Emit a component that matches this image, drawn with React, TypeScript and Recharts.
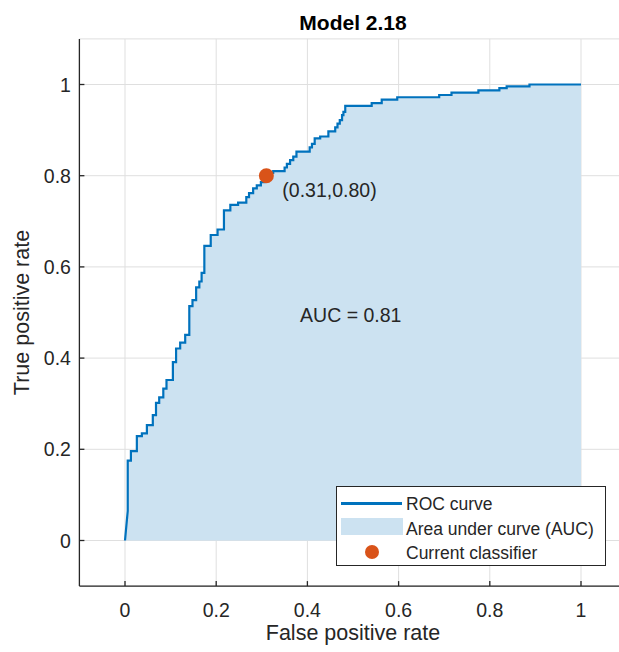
import React from 'react';
import { ComposedChart, Area, Line, XAxis, YAxis, CartesianGrid, ReferenceDot, Legend, Label } from 'recharts';

// ROC curve vertices (false positive rate, true positive rate)
const fpr = [
  0, 0.006, 0.006, 0.013, 0.013, 0.026, 0.026, 0.037, 0.037, 0.048, 0.048, 0.061, 0.061, 0.068, 0.068,
  0.075, 0.075, 0.084, 0.084, 0.091, 0.091, 0.105, 0.105, 0.112, 0.112, 0.121, 0.121, 0.132, 0.132,
  0.141, 0.141, 0.148, 0.148, 0.156, 0.156, 0.163, 0.163, 0.168, 0.168, 0.174, 0.174, 0.188, 0.188,
  0.203, 0.203, 0.217, 0.217, 0.231, 0.231, 0.248, 0.248, 0.266, 0.266, 0.272, 0.272, 0.281, 0.281,
  0.289, 0.289, 0.298, 0.298, 0.306, 0.306, 0.312, 0.312, 0.325, 0.325, 0.350, 0.350, 0.355, 0.355,
  0.362, 0.362, 0.369, 0.369, 0.376, 0.376, 0.405, 0.405, 0.410, 0.410, 0.416, 0.416, 0.428, 0.428,
  0.446, 0.446, 0.461, 0.461, 0.466, 0.466, 0.471, 0.471, 0.476, 0.476, 0.479, 0.479, 0.483, 0.483,
  0.541, 0.541, 0.563, 0.563, 0.597, 0.597, 0.689, 0.689, 0.716, 0.716, 0.775, 0.775, 0.821, 0.821,
  0.837, 0.837, 0.887, 0.887, 1.0,
];
const tpr = [
  0, 0.065, 0.175, 0.175, 0.196, 0.196, 0.229, 0.229, 0.235, 0.235, 0.253, 0.253, 0.275, 0.275, 0.302,
  0.302, 0.314, 0.314, 0.333, 0.333, 0.352, 0.352, 0.391, 0.391, 0.421, 0.421, 0.434, 0.434, 0.451,
  0.451, 0.514, 0.514, 0.527, 0.527, 0.555, 0.555, 0.568, 0.568, 0.587, 0.587, 0.646, 0.646, 0.670,
  0.670, 0.682, 0.682, 0.724, 0.724, 0.736, 0.736, 0.741, 0.741, 0.753, 0.753, 0.762, 0.762, 0.772,
  0.772, 0.779, 0.779, 0.786, 0.786, 0.795, 0.795, 0.806, 0.806, 0.810, 0.810, 0.818, 0.818, 0.826,
  0.826, 0.834, 0.834, 0.842, 0.842, 0.853, 0.853, 0.862, 0.862, 0.870, 0.870, 0.882, 0.882, 0.886,
  0.886, 0.897, 0.897, 0.906, 0.906, 0.914, 0.914, 0.922, 0.922, 0.933, 0.933, 0.940, 0.940, 0.953,
  0.953, 0.959, 0.959, 0.967, 0.967, 0.972, 0.972, 0.977, 0.977, 0.982, 0.982, 0.987, 0.987, 0.992,
  0.992, 0.996, 0.996, 1.0, 1.0,
];

const xTicks = [0, 0.2, 0.4, 0.6, 0.8, 1];
const xTickLabels = ['0', '0.2', '0.4', '0.6', '0.8', '1'];
const yTicks = [0, 0.2, 0.4, 0.6, 0.8, 1];
const yTickLabels = ['0', '0.2', '0.4', '0.6', '0.8', '1'];

const classifierPoint = { fpr: 0.31, tpr: 0.8 };
const classifierText = '(0.31,0.80)';
const aucAnchor = { fpr: 0.384, tpr: 0.48 };
const aucText = 'AUC = 0.81';
const titleText = 'Model 2.18';
const xLabelText = 'False positive rate';
const yLabelText = 'True positive rate';
const legendLabels = ['ROC curve', 'Area under curve (AUC)', 'Current classifier'];

const rocData = fpr.map((x, i) => ({ fpr: x, tpr: tpr[i] }));

const FONT = '"Liberation Sans", Arial, Helvetica, sans-serif';
const BLUE = '#0072BD';
const FILL = '#CCE2F1';
const ORANGE = '#D95319';
const AX = '#262626';

const XTick = (props: any) => {
  const { x, y, payload } = props;
  const i = xTicks.indexOf(payload.value);
  return (
    <g>
      <line x1={x} x2={x} y1={y} y2={y - 5} stroke={AX} strokeWidth={1.3} />
      <text x={x} y={y + 30.5} textAnchor="middle" fontSize={19.5} fill={AX} fontFamily={FONT}>
        {i >= 0 ? xTickLabels[i] : String(payload.value)}
      </text>
    </g>
  );
};

const YTick = (props: any) => {
  const { x, y, payload } = props;
  const i = yTicks.indexOf(payload.value);
  return (
    <g>
      <line x1={x} x2={x + 5} y1={y} y2={y} stroke={AX} strokeWidth={1.3} />
      <text x={x - 8.5} y={y + 7} textAnchor="end" fontSize={19.5} fill={AX} fontFamily={FONT}>
        {i >= 0 ? yTickLabels[i] : String(payload.value)}
      </text>
    </g>
  );
};

const LegendBox = () => (
  <div
    style={{
      width: 270,
      height: 80,
      boxSizing: 'border-box',
      border: `1.3px solid ${AX}`,
      background: '#fff',
      position: 'relative',
      fontFamily: FONT,
      fontSize: 17.5,
      color: AX,
    }}
  >
    <div style={{ position: 'absolute', left: 4, top: 14.5, width: 61, height: 3, background: BLUE }} />
    <div style={{ position: 'absolute', left: 69, top: 6.5, lineHeight: '20px', whiteSpace: 'nowrap' }}>{legendLabels[0]}</div>
    <div style={{ position: 'absolute', left: 3.5, top: 31, width: 62, height: 17, background: FILL }} />
    <div style={{ position: 'absolute', left: 69, top: 31.5, lineHeight: '20px', whiteSpace: 'nowrap' }}>{legendLabels[1]}</div>
    <div
      style={{
        position: 'absolute',
        left: 34.5 - 7,
        top: 65 - 7,
        width: 14,
        height: 14,
        borderRadius: 7,
        background: ORANGE,
      }}
    />
    <div style={{ position: 'absolute', left: 69, top: 56, lineHeight: '20px', whiteSpace: 'nowrap' }}>{legendLabels[2]}</div>
  </div>
);

export default function App() {
  return (
    <div style={{ position: 'absolute', left: 0, top: 0, width: 619, height: 652, overflow: 'hidden', background: '#fff' }}>
      <div
        style={{
          position: 'absolute',
          left: 253,
          width: 200,
          top: 0,
          textAlign: 'center',
          fontFamily: FONT,
          fontWeight: 'bold',
          fontSize: 21,
          lineHeight: '21px',
          paddingTop: 11.5,
          color: '#000',
          zIndex: 2,
        }}
      >
        {titleText}
      </div>
      <ComposedChart
        width={640}
        height={652}
        data={rocData}
        margin={{ top: 38.9, right: 13.4, bottom: 35.9, left: 39.4 }}
        style={{ fontFamily: FONT }}
      >
        <CartesianGrid stroke="#dfdfdf" strokeWidth={1} />
        <XAxis
          dataKey="fpr"
          type="number"
          domain={[-0.1, 1.1]}
          ticks={xTicks}
          allowDataOverflow
          height={30}
          tickSize={0}
          tickMargin={0}
          tick={<XTick />}
          axisLine={{ stroke: AX, strokeWidth: 1.3 }}
          tickLine={false}
          interval={0}
        >
          <Label
            content={(p: any) => {
              const vb = p.viewBox || { x: 79.4, y: 586.1, width: 547.2 };
              return (
                <text x={vb.x + vb.width / 2} y={vb.y + 54} textAnchor="middle" fontSize={21.5} fill={AX} fontFamily={FONT}>
                  {xLabelText}
                </text>
              );
            }}
          />
        </XAxis>
        <YAxis
          type="number"
          domain={[-0.1, 1.1]}
          ticks={yTicks}
          allowDataOverflow
          width={40}
          tickSize={0}
          tickMargin={0}
          tick={<YTick />}
          axisLine={{ stroke: AX, strokeWidth: 1.3 }}
          tickLine={false}
          interval={0}
        >
          <Label
            content={(p: any) => {
              const vb = p.viewBox || { x: 39.4, y: 38.9, width: 40, height: 547.2 };
              const cx = 28.5;
              const cy = vb.y + vb.height / 2;
              return (
                <text
                  x={cx}
                  y={cy}
                  textAnchor="middle"
                  fontSize={21.5}
                  fill={AX}
                  fontFamily={FONT}
                  transform={`rotate(-90, ${cx}, ${cy})`}
                >
                  {yLabelText}
                </text>
              );
            }}
          />
        </YAxis>
        <Area
          type="linear"
          dataKey="tpr"
          baseValue={0}
          stroke="none"
          fill={FILL}
          fillOpacity={1}
          isAnimationActive={false}
          dot={false}
          activeDot={false}
        />
        <Line
          type="linear"
          dataKey="tpr"
          stroke={BLUE}
          strokeWidth={2.2}
          dot={false}
          activeDot={false}
          isAnimationActive={false}
        />
        <ReferenceDot
          x={aucAnchor.fpr}
          y={aucAnchor.tpr}
          r={0}
          fill="none"
          stroke="none"
          label={(p: any) => {
            const vb = p.viewBox;
            const cx = vb.x + (vb.width || 0) / 2;
            const cy = vb.y + (vb.height || 0) / 2;
            return (
              <text x={cx} y={cy} textAnchor="start" fontSize={19.5} fill={AX} fontFamily={FONT}>
                {aucText}
              </text>
            );
          }}
        />
        <ReferenceDot
          x={classifierPoint.fpr}
          y={classifierPoint.tpr}
          r={7.5}
          fill={ORANGE}
          stroke="none"
          label={(p: any) => {
            const vb = p.viewBox;
            const cx = vb.x + (vb.width || 0) / 2;
            const cy = vb.y + (vb.height || 0) / 2;
            return (
              <text x={cx + 16} y={cy + 21} textAnchor="start" fontSize={19.5} fill={AX} fontFamily={FONT}>
                {classifierText}
              </text>
            );
          }}
        />
        <Legend
          layout="vertical"
          align="center"
          verticalAlign="middle"
          content={() => <LegendBox />}
          wrapperStyle={{ left: 336, top: 486, width: 270, height: 80 }}
        />
      </ComposedChart>
    </div>
  );
}
